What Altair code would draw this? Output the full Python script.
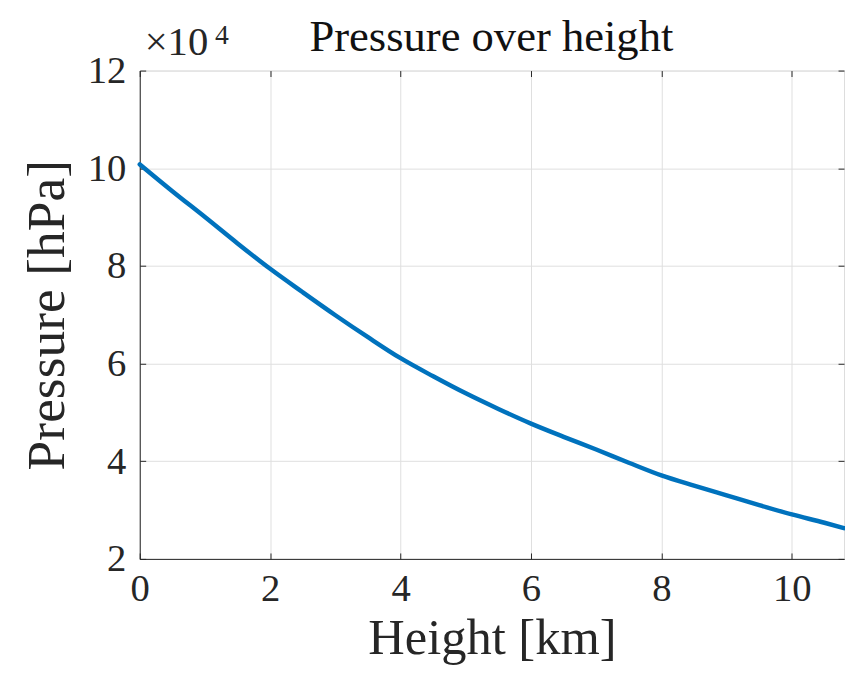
import altair as alt
import pandas as pd

# Height [km] and pressure [Pa]
height_km = [0, 0.5, 1, 1.5, 2, 2.5, 3, 3.5, 4, 4.5, 5, 5.5, 6, 6.5, 7, 7.5, 8, 8.5, 9, 9.5, 10, 10.5, 10.8]
pressure = [100800, 95300, 90000, 84600, 79400, 74600, 69900, 65400, 61100, 57400, 53900, 50700,
            47700, 45000, 42400, 39700, 37100, 35000, 33000, 31000, 29100, 27400, 26300]

x_ticks = [0, 2, 4, 6, 8, 10]
y_ticks = [20000, 40000, 60000, 80000, 100000, 120000]

title_text = ["Pressure over height"]
exponent_base = ["×10"]
exponent_power = ["4"]

df = pd.DataFrame({"h": height_km, "p": pressure})

FONT = "Liberation Serif"
DARK = "#262626"
GRID = "#dfdfdf"

xscale = alt.Scale(domain=[0, 10.8], nice=False, zero=False)
yscale = alt.Scale(domain=[20000, 120000], nice=False, zero=False)

base = alt.Chart(df)

main = base.mark_line(color="#0072BD", strokeWidth=4.5, strokeCap="round",
                      interpolate="monotone").encode(
    x=alt.X("h:Q", scale=xscale, axis=alt.Axis(
        orient="bottom", values=x_ticks, grid=True, gridColor=GRID, gridWidth=1,
        ticks=False, domain=True, domainColor=DARK, domainWidth=1,
        labelFont=FONT, labelFontSize=39, labelColor=DARK, labelPadding=11,
        labelFlush=False,
        title="Height [km]", titleFont=FONT, titleFontSize=51, titleFontWeight="normal",
        titleColor=DARK, titlePadding=6)),
    y=alt.Y("p:Q", scale=yscale, axis=alt.Axis(
        orient="left", values=y_ticks, grid=True, gridColor=GRID, gridWidth=1,
        ticks=False, domain=True, domainColor=DARK, domainWidth=1,
        labelExpr="datum.value / 10000", labelFlush=False,
        labelFont=FONT, labelFontSize=39, labelColor=DARK, labelPadding=14,
        title="Pressure [hPa]", titleFont=FONT, titleFontSize=54, titleFontWeight="normal",
        titleColor=DARK, titlePadding=13)),
)

def tick_axis(orient, values):
    return alt.Axis(orient=orient, values=values, offset=-6, tickSize=6, ticks=True,
                    tickColor=DARK, tickWidth=1, labels=False, domain=False, grid=False,
                    title=None)

ticks_a = base.mark_line(strokeOpacity=0).encode(
    x=alt.X("h:Q", scale=xscale, axis=tick_axis("top", x_ticks)),
    y=alt.Y("p:Q", scale=yscale, axis=tick_axis("right", y_ticks)),
)
ticks_b = base.mark_line(strokeOpacity=0).encode(
    x=alt.X("h:Q", scale=xscale, axis=tick_axis("bottom", x_ticks)),
    y=alt.Y("p:Q", scale=yscale, axis=tick_axis("left", y_ticks)),
)

txt_df = pd.DataFrame({"title": title_text, "t": exponent_base, "s": exponent_power})
exp_main = alt.Chart(txt_df).mark_text(
    font=FONT, fontSize=41, color=DARK, align="left", baseline="alphabetic"
).encode(text="t:N", x=alt.value(5), y=alt.value(-16))
exp_sup = alt.Chart(txt_df).mark_text(
    font=FONT, fontSize=28, color=DARK, align="left", baseline="alphabetic"
).encode(text="s:N", x=alt.value(76), y=alt.value(-27))
title_mark = alt.Chart(txt_df).mark_text(
    font=FONT, fontSize=45, color="#111111", align="center", baseline="alphabetic"
).encode(text="title:N", x=alt.value(355), y=alt.value(-20))

chart = alt.layer(main, ticks_a, ticks_b, exp_main, exp_sup, title_mark).resolve_axis(
    x="independent", y="independent"
).properties(
    width=711, height=493,
    autosize=alt.AutoSizeParams(type="none"),
    padding={"left": 133, "top": 60, "right": 1, "bottom": 110},
).configure_view(stroke=DARK, strokeWidth=1).configure(background="white")

chart.save("out.html", embed_options={"renderer": "svg", "actions": False})
